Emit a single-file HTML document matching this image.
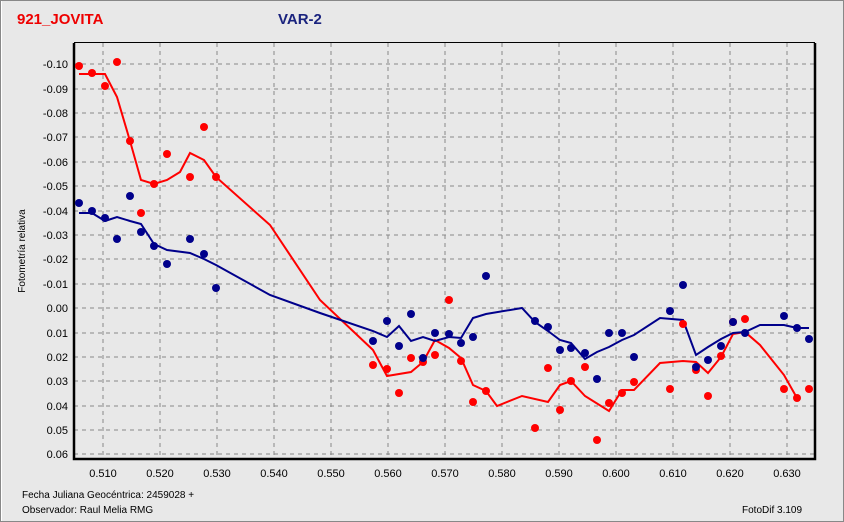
<!DOCTYPE html><html><head><style>body{margin:0;background:#e8e8e8}svg{display:block;font-family:"Liberation Sans",sans-serif}</style></head><body>
<svg width="844" height="522" viewBox="0 0 844 522">
<rect x="0.5" y="0.5" width="843" height="521" fill="#e8e8e8" stroke="#888"/>
<line x1="1.5" y1="1" x2="1.5" y2="521" stroke="#fff"/>
<text x="17" y="24" fill="#e00" font-size="15" font-weight="bold">921_JOVITA</text>
<text x="278" y="24" fill="#1a237e" font-size="15" font-weight="bold">VAR-2</text>
<g stroke="#888" stroke-dasharray="4,4" stroke-width="1">
<line x1="74" x2="815" y1="64" y2="64"/><line x1="74" x2="815" y1="89" y2="89"/><line x1="74" x2="815" y1="113" y2="113"/><line x1="74" x2="815" y1="137" y2="137"/><line x1="74" x2="815" y1="162" y2="162"/><line x1="74" x2="815" y1="186" y2="186"/><line x1="74" x2="815" y1="211" y2="211"/><line x1="74" x2="815" y1="235" y2="235"/><line x1="74" x2="815" y1="259" y2="259"/><line x1="74" x2="815" y1="284" y2="284"/><line x1="74" x2="815" y1="308" y2="308"/><line x1="74" x2="815" y1="333" y2="333"/><line x1="74" x2="815" y1="357" y2="357"/><line x1="74" x2="815" y1="381" y2="381"/><line x1="74" x2="815" y1="406" y2="406"/><line x1="74" x2="815" y1="430" y2="430"/><line x1="74" x2="815" y1="454" y2="454"/>
<line y1="43" y2="459" x1="103" x2="103"/><line y1="43" y2="459" x1="160" x2="160"/><line y1="43" y2="459" x1="217" x2="217"/><line y1="43" y2="459" x1="274" x2="274"/><line y1="43" y2="459" x1="331" x2="331"/><line y1="43" y2="459" x1="388" x2="388"/><line y1="43" y2="459" x1="445" x2="445"/><line y1="43" y2="459" x1="502" x2="502"/><line y1="43" y2="459" x1="559" x2="559"/><line y1="43" y2="459" x1="616" x2="616"/><line y1="43" y2="459" x1="673" x2="673"/><line y1="43" y2="459" x1="730" x2="730"/><line y1="43" y2="459" x1="787" x2="787"/>
</g>
<path d="M74,43V459H815V43" fill="none" stroke="#000" stroke-width="2.5"/>
<line x1="74" y1="42.5" x2="815" y2="42.5" stroke="#000"/>
<g font-size="11" fill="#000" text-anchor="end">
<text x="68" y="68">-0.10</text><text x="68" y="93">-0.09</text><text x="68" y="117">-0.08</text><text x="68" y="141">-0.07</text><text x="68" y="166">-0.06</text><text x="68" y="190">-0.05</text><text x="68" y="215">-0.04</text><text x="68" y="239">-0.03</text><text x="68" y="263">-0.02</text><text x="68" y="288">-0.01</text><text x="68" y="312">0.00</text><text x="68" y="337">0.01</text><text x="68" y="361">0.02</text><text x="68" y="385">0.03</text><text x="68" y="410">0.04</text><text x="68" y="434">0.05</text><text x="68" y="458">0.06</text>
</g>
<g font-size="11" fill="#000" text-anchor="middle">
<text x="103" y="477">0.510</text><text x="160" y="477">0.520</text><text x="217" y="477">0.530</text><text x="274" y="477">0.540</text><text x="331" y="477">0.550</text><text x="388" y="477">0.560</text><text x="445" y="477">0.570</text><text x="502" y="477">0.580</text><text x="559" y="477">0.590</text><text x="616" y="477">0.600</text><text x="673" y="477">0.610</text><text x="730" y="477">0.620</text><text x="787" y="477">0.630</text>
</g>
<text transform="translate(25,251) rotate(-90)" font-size="10" text-anchor="middle">Fotometría relativa</text>
<text x="22" y="498" font-size="10">Fecha Juliana Geocéntrica: 2459028 +</text>
<text x="22" y="513" font-size="10">Observador: Raul Melia RMG</text>
<text x="742" y="513" font-size="10">FotoDif 3.109</text>
<polyline fill="none" stroke="#f00" stroke-width="2" points="79,74 92,74 105,74 117,97 130,141 141,180 154,184 167,180 180,172 190,153 204,160 216,177 270,225 320,300 373,350 387,376 411,372 423,362 435,340 449,348 461,358 473,385 486,391 497,406 522,396 548,402 560,385 571,381 585,396 609,411 622,390 634,390 660,363 683,361 696,362 708,373 721,357 733,334 745,332 760,345 784,375 797,398"/>
<polyline fill="none" stroke="#00008b" stroke-width="2" points="79,213 92,213 105,221 117,217 130,221 141,224 154,244 167,250 190,253 204,259 216,265 270,295 320,313 373,331 387,337 399,326 411,341 423,337 435,341 449,337 461,338 473,318 486,314 522,308 535,322 548,331 560,340 571,343 585,359 597,352 609,347 622,340 634,335 660,318 683,320 696,355 708,347 721,339 733,333 745,332 760,325 784,325 797,328 809,328"/>
<g fill="#f00">
<circle cx="79" cy="66" r="4"/><circle cx="92" cy="73" r="4"/><circle cx="105" cy="86" r="4"/><circle cx="117" cy="62" r="4"/><circle cx="130" cy="141" r="4"/><circle cx="141" cy="213" r="4"/><circle cx="154" cy="184" r="4"/><circle cx="167" cy="154" r="4"/><circle cx="190" cy="177" r="4"/><circle cx="204" cy="127" r="4"/><circle cx="216" cy="177" r="4"/><circle cx="373" cy="365" r="4"/><circle cx="387" cy="369" r="4"/><circle cx="399" cy="393" r="4"/><circle cx="411" cy="358" r="4"/><circle cx="423" cy="362" r="4"/><circle cx="435" cy="355" r="4"/><circle cx="449" cy="300" r="4"/><circle cx="461" cy="361" r="4"/><circle cx="473" cy="402" r="4"/><circle cx="486" cy="391" r="4"/><circle cx="535" cy="428" r="4"/><circle cx="548" cy="368" r="4"/><circle cx="560" cy="410" r="4"/><circle cx="571" cy="381" r="4"/><circle cx="585" cy="367" r="4"/><circle cx="597" cy="440" r="4"/><circle cx="609" cy="403" r="4"/><circle cx="622" cy="393" r="4"/><circle cx="634" cy="382" r="4"/><circle cx="670" cy="389" r="4"/><circle cx="683" cy="324" r="4"/><circle cx="696" cy="370" r="4"/><circle cx="708" cy="396" r="4"/><circle cx="721" cy="356" r="4"/><circle cx="733" cy="322" r="4"/><circle cx="745" cy="319" r="4"/><circle cx="784" cy="389" r="4"/><circle cx="797" cy="398" r="4"/><circle cx="809" cy="389" r="4"/>
</g>
<g fill="#00008b">
<circle cx="79" cy="203" r="4"/><circle cx="92" cy="211" r="4"/><circle cx="105" cy="218" r="4"/><circle cx="117" cy="239" r="4"/><circle cx="130" cy="196" r="4"/><circle cx="141" cy="232" r="4"/><circle cx="154" cy="246" r="4"/><circle cx="167" cy="264" r="4"/><circle cx="190" cy="239" r="4"/><circle cx="204" cy="254" r="4"/><circle cx="216" cy="288" r="4"/><circle cx="373" cy="341" r="4"/><circle cx="387" cy="321" r="4"/><circle cx="399" cy="346" r="4"/><circle cx="411" cy="314" r="4"/><circle cx="423" cy="358" r="4"/><circle cx="435" cy="333" r="4"/><circle cx="449" cy="334" r="4"/><circle cx="461" cy="343" r="4"/><circle cx="473" cy="337" r="4"/><circle cx="486" cy="276" r="4"/><circle cx="535" cy="321" r="4"/><circle cx="548" cy="327" r="4"/><circle cx="560" cy="350" r="4"/><circle cx="571" cy="348" r="4"/><circle cx="585" cy="353" r="4"/><circle cx="597" cy="379" r="4"/><circle cx="609" cy="333" r="4"/><circle cx="622" cy="333" r="4"/><circle cx="634" cy="357" r="4"/><circle cx="670" cy="311" r="4"/><circle cx="683" cy="285" r="4"/><circle cx="696" cy="367" r="4"/><circle cx="708" cy="360" r="4"/><circle cx="721" cy="346" r="4"/><circle cx="733" cy="322" r="4"/><circle cx="745" cy="333" r="4"/><circle cx="784" cy="316" r="4"/><circle cx="797" cy="328" r="4"/><circle cx="809" cy="339" r="4"/>
</g>
</svg>
</body></html>
